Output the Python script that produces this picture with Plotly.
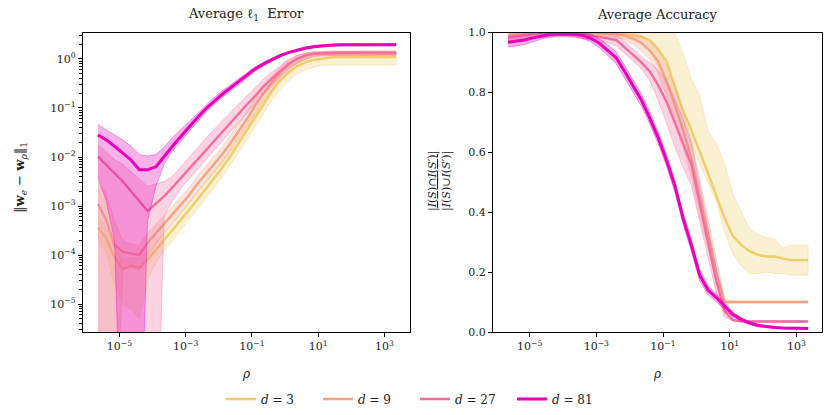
import plotly.graph_objects as go

# ---------------- data ----------------
rho_exp = [-5.65, -5.4, -5.15, -4.9, -4.65, -4.4, -4.15, -3.9, -3.65, -3.4, -3.15, -2.9,
           -2.65, -2.4, -2.15, -1.9, -1.65, -1.4, -1.15, -0.9, -0.65, -0.4, -0.15, 0.1,
           0.35, 0.6, 0.85, 1.1, 1.35, 1.6, 1.85, 2.1, 2.35, 2.6, 2.85, 3.1, 3.35]
rho = [10 ** e for e in rho_exp]

labels = ["3", "9", "27", "81"]
colors = [(240, 204, 106), (245, 163, 135), (243, 110, 158), (233, 1, 186)]

# Average l1 error (log10 values)
err_d3 = [-3.44, -3.65, -4.05, -4.28, -4.22, -4.26, -4.10, -3.90, -3.70, -3.50, -3.30, -3.08,
          -2.87, -2.66, -2.45, -2.22, -1.98, -1.72, -1.46, -1.20, -0.92, -0.66, -0.44, -0.28,
          -0.15, -0.07, -0.02, 0.01, 0.03, 0.04, 0.04, 0.04, 0.04, 0.04, 0.04, 0.04, 0.04]
err_d3_hi = [-3.20, -3.45, -3.85, -4.10, -4.05, -4.05, -3.92, -3.74, -3.54, -3.34, -3.14, -2.92,
             -2.71, -2.50, -2.29, -2.06, -1.82, -1.56, -1.30, -1.04, -0.77, -0.52, -0.31, -0.16,
             -0.04, 0.04, 0.09, 0.12, 0.14, 0.16, 0.16, 0.16, 0.16, 0.16, 0.16, 0.16, 0.16]
err_d3_lo = [-3.70, -3.95, -4.60, -5.00, -5.10, -5.30, -4.50, -4.15, -3.92, -3.70, -3.50, -3.27,
             -3.06, -2.85, -2.64, -2.41, -2.17, -1.91, -1.65, -1.39, -1.11, -0.84, -0.62, -0.45,
             -0.31, -0.22, -0.17, -0.13, -0.12, -0.12, -0.12, -0.12, -0.12, -0.12, -0.12, -0.12, -0.12]

err_d9 = [-2.96, -3.28, -3.80, -3.93, -3.97, -4.00, -3.75, -3.55, -3.35, -3.17, -2.98, -2.78,
          -2.55, -2.35, -2.15, -1.95, -1.72, -1.48, -1.22, -0.95, -0.70, -0.48, -0.28, -0.12,
          0.00, 0.07, 0.10, 0.11, 0.11, 0.11, 0.11, 0.11, 0.11, 0.11, 0.11, 0.11, 0.11]
err_d9_hi = [-2.50, -2.75, -3.30, -3.70, -3.78, -3.80, -3.55, -3.38, -3.19, -3.01, -2.82, -2.62,
             -2.39, -2.19, -1.99, -1.79, -1.56, -1.32, -1.06, -0.80, -0.56, -0.35, -0.17, -0.03,
             0.07, 0.12, 0.14, 0.15, 0.15, 0.15, 0.15, 0.15, 0.15, 0.15, 0.15, 0.15, 0.15]
err_d9_lo = [-9.0, -9.0, -9.0, -4.30, -4.25, -4.30, -4.05, -3.78, -3.55, -3.35, -3.15, -2.95,
             -2.72, -2.52, -2.32, -2.12, -1.89, -1.65, -1.39, -1.12, -0.86, -0.63, -0.42, -0.24,
             -0.10, -0.01, 0.04, 0.06, 0.07, 0.07, 0.07, 0.07, 0.07, 0.07, 0.07, 0.07, 0.07]

err_d27 = [-1.99, -2.16, -2.35, -2.50, -2.70, -2.90, -3.10, -2.95, -2.80, -2.62, -2.43, -2.24,
           -2.05, -1.87, -1.68, -1.50, -1.30, -1.12, -0.93, -0.75, -0.56, -0.40, -0.25, -0.10,
           0.00, 0.07, 0.11, 0.12, 0.13, 0.13, 0.13, 0.13, 0.13, 0.13, 0.13, 0.13, 0.13]
err_d27_hi = [-1.75, -1.90, -2.05, -2.15, -2.30, -2.45, -2.60, -2.55, -2.50, -2.40, -2.20, -2.00,
              -1.80, -1.62, -1.44, -1.27, -1.08, -0.91, -0.74, -0.58, -0.41, -0.27, -0.14, -0.01,
              0.07, 0.12, 0.15, 0.16, 0.16, 0.16, 0.16, 0.16, 0.16, 0.16, 0.16, 0.16, 0.16]
err_d27_lo = [-9.0, -9.0, -9.0, -9.0, -9.0, -9.0, -9.0, -9.0, -3.20, -2.90, -2.65, -2.45,
              -2.25, -2.06, -1.87, -1.69, -1.49, -1.30, -1.10, -0.91, -0.71, -0.54, -0.37, -0.20,
              -0.09, -0.01, 0.05, 0.07, 0.08, 0.08, 0.08, 0.08, 0.08, 0.08, 0.08, 0.08, 0.08]

err_d81 = [-1.55, -1.65, -1.78, -1.92, -2.06, -2.26, -2.26, -2.20, -1.98, -1.78, -1.58, -1.38,
           -1.20, -1.02, -0.86, -0.72, -0.59, -0.46, -0.34, -0.20, -0.10, -0.01, 0.07, 0.13,
           0.18, 0.22, 0.25, 0.27, 0.28, 0.29, 0.29, 0.29, 0.29, 0.29, 0.29, 0.29, 0.29]
err_d81_hi = [-1.34, -1.45, -1.55, -1.65, -1.78, -1.95, -1.98, -1.95, -1.80, -1.60, -1.45, -1.28,
              -1.12, -0.95, -0.79, -0.65, -0.53, -0.40, -0.29, -0.16, -0.07, 0.02, 0.09, 0.15,
              0.20, 0.24, 0.27, 0.29, 0.30, 0.31, 0.31, 0.31, 0.31, 0.31, 0.31, 0.31, 0.31]
err_d81_lo = [-2.40, -2.90, -3.70, -9.0, -9.0, -9.0, -3.30, -2.60, -2.15, -1.88, -1.68, -1.47,
              -1.28, -1.09, -0.93, -0.79, -0.65, -0.52, -0.39, -0.25, -0.14, -0.05, 0.04, 0.11,
              0.16, 0.20, 0.23, 0.25, 0.26, 0.27, 0.27, 0.27, 0.27, 0.27, 0.27, 0.27, 0.27]

# Average accuracy
acc_d3 = [0.99, 0.992, 0.995, 0.998, 1.0, 1.0, 1.0, 1.0, 1.0, 1.0, 1.0, 1.0, 1.0, 0.998, 0.995,
          0.99, 0.985, 0.975, 0.945, 0.905, 0.825, 0.74, 0.675, 0.605, 0.53, 0.455, 0.38, 0.32,
          0.29, 0.27, 0.258, 0.252, 0.252, 0.245, 0.24, 0.24, 0.24]
acc_d3_hi = [1.01, 1.01, 1.01, 1.01, 1.01, 1.01, 1.01, 1.01, 1.01, 1.01, 1.01, 1.01, 1.01, 1.01,
             1.01, 1.01, 1.01, 1.01, 1.01, 1.01, 1.0, 0.93, 0.845, 0.79, 0.67, 0.63, 0.56, 0.46,
             0.40, 0.345, 0.325, 0.315, 0.31, 0.28, 0.29, 0.29, 0.29]
acc_d3_lo = [0.97, 0.975, 0.98, 0.985, 0.99, 0.99, 0.99, 0.99, 0.99, 0.99, 0.99, 0.99, 0.99, 0.985,
             0.98, 0.975, 0.965, 0.945, 0.89, 0.83, 0.77, 0.71, 0.625, 0.56, 0.50, 0.435, 0.335,
             0.26, 0.22, 0.195, 0.195, 0.20, 0.195, 0.195, 0.19, 0.19, 0.19]

acc_d9 = [0.99, 0.995, 0.998, 1.0, 1.0, 1.0, 1.0, 1.0, 1.0, 1.0, 1.0, 1.0, 0.997, 0.995, 0.99,
          0.98, 0.965, 0.94, 0.905, 0.84, 0.76, 0.675, 0.58, 0.45, 0.33, 0.20, 0.10, 0.10, 0.10,
          0.10, 0.10, 0.10, 0.10, 0.10, 0.10, 0.10, 0.10]
acc_d9_sd = [0.01, 0.01, 0.01, 0.01, 0.01, 0.01, 0.01, 0.01, 0.01, 0.01, 0.01, 0.01, 0.01, 0.01,
             0.015, 0.02, 0.025, 0.03, 0.04, 0.05, 0.06, 0.06, 0.06, 0.06, 0.05, 0.04, 0.01,
             0.003, 0.003, 0.003, 0.003, 0.003, 0.003, 0.003, 0.003, 0.003, 0.003]

acc_d27 = [0.985, 0.99, 0.995, 0.998, 1.0, 1.0, 1.0, 1.0, 0.998, 0.995, 0.99, 0.985, 0.98, 0.975,
           0.95, 0.925, 0.90, 0.87, 0.825, 0.77, 0.70, 0.63, 0.56, 0.43, 0.30, 0.17, 0.07, 0.04,
           0.036, 0.035, 0.035, 0.035, 0.035, 0.035, 0.035, 0.035, 0.035]
acc_d27_sd = [0.015, 0.015, 0.015, 0.015, 0.015, 0.015, 0.015, 0.015, 0.015, 0.015, 0.015, 0.015,
              0.015, 0.02, 0.02, 0.02, 0.02, 0.03, 0.05, 0.07, 0.08, 0.08, 0.07, 0.06, 0.05, 0.04,
              0.02, 0.003, 0.003, 0.003, 0.003, 0.003, 0.003, 0.003, 0.003, 0.003, 0.003]

acc_d81 = [0.967, 0.97, 0.975, 0.982, 0.988, 0.993, 0.995, 0.995, 0.994, 0.99, 0.98, 0.963, 0.94,
           0.915, 0.87, 0.82, 0.775, 0.715, 0.65, 0.575, 0.49, 0.38, 0.29, 0.19, 0.14, 0.115,
           0.085, 0.058, 0.042, 0.03, 0.022, 0.018, 0.015, 0.013, 0.012, 0.012, 0.012]
acc_d81_sd = [0.015, 0.015, 0.015, 0.012, 0.01, 0.008, 0.006, 0.006, 0.008, 0.01, 0.012, 0.015,
              0.018, 0.02, 0.02, 0.02, 0.02, 0.02, 0.02, 0.02, 0.02, 0.02, 0.02, 0.02, 0.015,
              0.012, 0.01, 0.008, 0.006, 0.005, 0.004, 0.003, 0.003, 0.003, 0.003, 0.003, 0.003]

err_mean = [err_d3, err_d9, err_d27, err_d81]
err_hi = [err_d3_hi, err_d9_hi, err_d27_hi, err_d81_hi]
err_lo = [err_d3_lo, err_d9_lo, err_d27_lo, err_d81_lo]

acc_mean = [acc_d3, acc_d9, acc_d27, acc_d81]
acc_hi = [acc_d3_hi] + [[m + s for m, s in zip(a, sd)] for a, sd in
                        [(acc_d9, acc_d9_sd), (acc_d27, acc_d27_sd), (acc_d81, acc_d81_sd)]]
acc_lo = [acc_d3_lo] + [[m - s for m, s in zip(a, sd)] for a, sd in
                        [(acc_d9, acc_d9_sd), (acc_d27, acc_d27_sd), (acc_d81, acc_d81_sd)]]

x_ticks = [1e-5, 1e-3, 1e-1, 1e1, 1e3]
x_ticktext = ["10<sup>−5</sup>", "10<sup>−3</sup>", "10<sup>−1</sup>", "10<sup>1</sup>", "10<sup>3</sup>"]
y1_ticks = [1e-5, 1e-4, 1e-3, 1e-2, 1e-1, 1e0]
y1_ticktext = ["10<sup>−5</sup>", "10<sup>−4</sup>", "10<sup>−3</sup>", "10<sup>−2</sup>",
               "10<sup>−1</sup>", "10<sup>0</sup>"]
y2_ticks = [0.0, 0.2, 0.4, 0.6, 0.8, 1.0]

# ---------------- figure ----------------
W, H = 830, 415
FONT = "DejaVu Serif, Liberation Serif, serif"
TXT = "#222222"


def rgba(c, a):
    return f"rgba({c[0]},{c[1]},{c[2]},{a})"


fig = go.Figure()

for i in range(4):
    c = colors[i]
    hi = [10 ** v for v in err_hi[i]]
    lo = [10 ** v for v in err_lo[i]]
    fig.add_trace(go.Scatter(x=rho + rho[::-1], y=hi + lo[::-1], fill="toself",
                             fillcolor=rgba(c, 0.3), line=dict(color=rgba(c, 0.45), width=0.8),
                             mode="lines", hoverinfo="skip", showlegend=False,
                             xaxis="x", yaxis="y"))
    fig.add_trace(go.Scatter(x=rho, y=[10 ** v for v in err_mean[i]], mode="lines",
                             line=dict(color=rgba(c, 1), width=3.0 if i == 3 else 2.4),
                             name="<i>d</i> = " + labels[i],
                             showlegend=True, xaxis="x", yaxis="y"))

for i in range(4):
    c = colors[i]
    fig.add_trace(go.Scatter(x=rho + rho[::-1], y=acc_hi[i] + acc_lo[i][::-1], fill="toself",
                             fillcolor=rgba(c, 0.3), line=dict(color=rgba(c, 0.45), width=0.8),
                             mode="lines", hoverinfo="skip", showlegend=False,
                             xaxis="x2", yaxis="y2"))
    fig.add_trace(go.Scatter(x=rho, y=acc_mean[i], mode="lines",
                             line=dict(color=rgba(c, 1), width=3.0 if i == 3 else 2.4),
                             showlegend=False, xaxis="x2", yaxis="y2"))

minor_vals = [k * 10 ** n for n in range(-7, 2) for k in range(2, 10)]

ax_common = dict(showline=True, mirror=True, linecolor="black", linewidth=1.2,
                 ticks="outside", ticklen=4, tickwidth=1, tickcolor="black",
                 showgrid=False, zeroline=False, automargin=False,
                 tickfont=dict(family=FONT, size=11, color=TXT))

y_dom = [1 - 332 / H, 1 - 32.5 / H]
fig.update_layout(
    width=W, height=H, autosize=False,
    margin=dict(l=0, r=0, t=0, b=0, pad=0),
    paper_bgcolor="white", plot_bgcolor="white",
    font=dict(family=FONT, size=11, color=TXT),
    xaxis=dict(domain=[83 / W, 410 / W], type="log", range=[-6.1, 3.77],
               tickvals=x_ticks, ticktext=x_ticktext, anchor="y", **ax_common),
    yaxis=dict(domain=y_dom, type="log", range=[-5.57, 0.54],
               tickvals=y1_ticks, ticktext=y1_ticktext, anchor="x",
               minor=dict(tickvals=minor_vals, ticks="outside", ticklen=2.5,
                          tickwidth=0.8, tickcolor="black", showgrid=False),
               **ax_common),
    xaxis2=dict(domain=[493 / W, 822 / W], type="log", range=[-6.1, 3.77],
                tickvals=x_ticks, ticktext=x_ticktext, anchor="y2", **ax_common),
    yaxis2=dict(domain=y_dom, range=[0, 1], tickvals=y2_ticks, tickformat=".1f",
                anchor="x2", **ax_common),
    legend=dict(orientation="h", x=0.5, xanchor="center", y=1 - 399 / H, yanchor="middle",
                font=dict(family=FONT, size=12, color=TXT), bgcolor="rgba(0,0,0,0)",
                itemwidth=30, tracegroupgap=0, entrywidth=52, entrywidthmode="pixels"),
    showlegend=True,
)


def ann(text, px, py, size=11, angle=0):
    fig.add_annotation(text=text, x=px / W, y=1 - py / H, xref="paper", yref="paper",
                       showarrow=False, textangle=angle, xanchor="center", yanchor="middle",
                       font=dict(family=FONT, size=size, color=TXT))


ann("Average ℓ<sub>1</sub>  Error", 246, 14, size=13)
ann("Average Accuracy", 657, 14, size=13)
ann("<i>ρ</i>", 246, 374, size=12)
ann("<i>ρ</i>", 657, 374, size=12)
ann("‖<b>w</b><sub><i>e</i></sub> − <b>w</b><sub><i>ρ</i></sub>‖<sub>1</sub>", 20, 178,
    size=13, angle=-90)
ann("<u>|<i>I</i>(<i>S</i>)∩<i>I</i>(<i>S′</i>)|</u><br>|<i>I</i>(<i>S</i>)∪<i>I</i>(<i>S′</i>)|",
    440, 181, size=11, angle=-90)

fig.write_html("out.html", config={"displayModeBar": False},
               post_script="document.body.style.margin='0';document.body.style.overflow='hidden';")
